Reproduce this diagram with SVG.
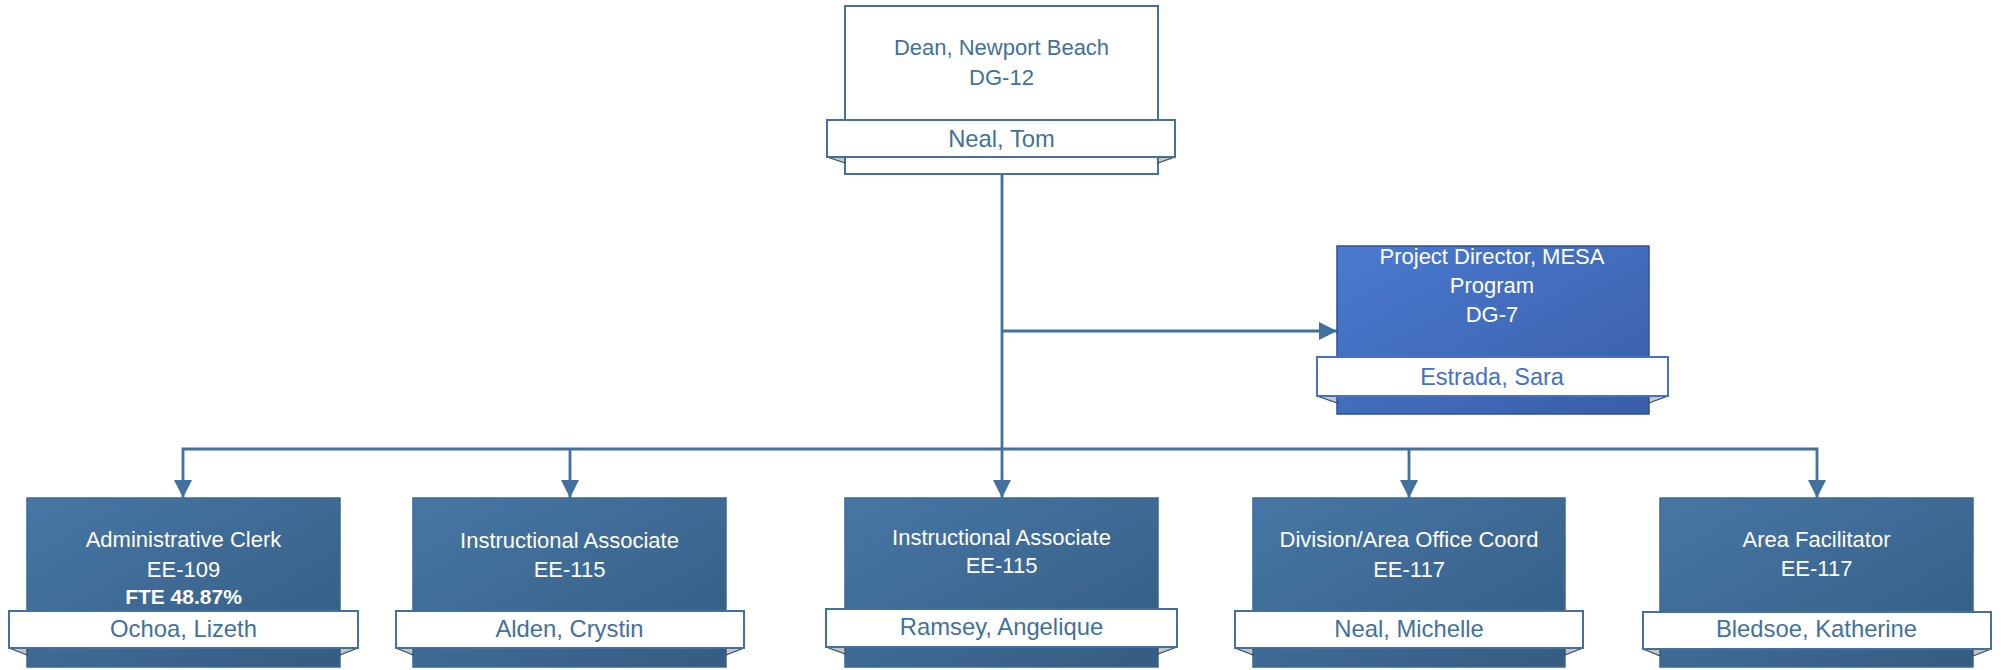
<svg xmlns="http://www.w3.org/2000/svg" width="2005" height="670" viewBox="0 0 2005 670">
<style>
text{font-family:"Liberation Sans",Arial,sans-serif;text-anchor:middle}
.t{font-size:22px;fill:#ffffff}
.tb{font-size:21px;fill:#ffffff;font-weight:bold}
.td{font-size:22px;fill:#41719C}
.n{font-size:23.8px;fill:#41719C}
.nm{font-size:23.5px;fill:#4472C4}
.box{fill:url(#gBlue);stroke:#3D6790;stroke-width:1.5}
.boxm{fill:url(#gMesa);stroke:#2F528F;stroke-width:1.5}
.boxw{fill:#ffffff;stroke:#41719C;stroke-width:2}
.ban{fill:#ffffff;stroke:#41719C;stroke-width:2}
.banm{fill:#ffffff;stroke:#4472C4;stroke-width:2}
.fold{fill:#C4C4C4;stroke:#2E4A66;stroke-width:1.2;stroke-linejoin:round}
.c{fill:none;stroke:#41719C;stroke-width:2.8}
</style>
<defs>
<linearGradient id="gBlue" x1="0" y1="0" x2="1" y2="1">
<stop offset="0" stop-color="#4677A6"/>
<stop offset="1" stop-color="#355C82"/>
</linearGradient>
<linearGradient id="gMesa" x1="0" y1="0" x2="1" y2="1">
<stop offset="0" stop-color="#4A7AD0"/>
<stop offset="1" stop-color="#3A5EA8"/>
</linearGradient>
<marker id="arr" viewBox="0 0 18 18" refX="18" refY="9" markerWidth="18" markerHeight="18" markerUnits="userSpaceOnUse" orient="auto">
<path d="M0,0 L18,9 L0,18 z" fill="#41719C"/>
</marker>
</defs>
<rect width="2005" height="670" fill="#ffffff"/>

<g id="connectors">
<path class="c" d="M1002,174 V498" marker-end="url(#arr)"/>
<path class="c" d="M1002,331 H1337" marker-end="url(#arr)"/>
<path class="c" d="M1002,449 H183 V498" marker-end="url(#arr)"/>
<path class="c" d="M570,449 V498" marker-end="url(#arr)"/>
<path class="c" d="M1002,449 H1817 V498" marker-end="url(#arr)"/>
<path class="c" d="M1409,449 V498" marker-end="url(#arr)"/>
</g>

<g id="node-dean">
<rect class="boxw" x="845" y="6" width="313" height="168"/>
<polygon class="fold" points="827,157 845,157 845,163"/>
<polygon class="fold" points="1175,157 1158,157 1158,163"/>
<rect class="ban" x="827" y="120" width="348" height="37"/>
<text class="td" x="1001.5" y="55">Dean, Newport Beach</text>
<text class="td" x="1001.5" y="85">DG-12</text>
<text class="n" x="1001.5" y="147">Neal, Tom</text>
</g>

<g id="node-mesa">
<rect class="boxm" x="1337" y="246" width="312" height="168"/>
<polygon class="fold" points="1317,396 1337,396 1337,403"/>
<polygon class="fold" points="1668,396 1649,396 1649,403"/>
<rect class="banm" x="1317" y="357" width="351" height="39"/>
<text class="t" x="1492" y="264">Project Director, MESA</text>
<text class="t" x="1492" y="293">Program</text>
<text class="t" x="1492" y="322">DG-7</text>
<text class="nm" x="1492" y="385">Estrada, Sara</text>
</g>

<g id="node-ochoa">
<rect class="box" x="27" y="498" width="313" height="169"/>
<polygon class="fold" points="9,648 27,648 27,655"/>
<polygon class="fold" points="358,648 340,648 340,655"/>
<rect class="ban" x="9" y="611" width="349" height="37"/>
<text class="t" x="183.5" y="547">Administrative Clerk</text>
<text class="t" x="183.5" y="577">EE-109</text>
<text class="tb" x="183.5" y="604">FTE 48.87%</text>
<text class="n" x="183.5" y="637">Ochoa, Lizeth</text>
</g>

<g id="node-alden">
<rect class="box" x="413" y="498" width="313" height="169"/>
<polygon class="fold" points="396,648 413,648 413,655"/>
<polygon class="fold" points="744,648 726,648 726,655"/>
<rect class="ban" x="396" y="611" width="348" height="37"/>
<text class="t" x="569.5" y="548">Instructional Associate</text>
<text class="t" x="569.5" y="577">EE-115</text>
<text class="n" x="569.5" y="637">Alden, Crystin</text>
</g>

<g id="node-ramsey">
<rect class="box" x="845" y="498" width="313" height="169"/>
<polygon class="fold" points="826,647 845,647 845,654"/>
<polygon class="fold" points="1177,647 1158,647 1158,654"/>
<rect class="ban" x="826" y="609" width="351" height="38"/>
<text class="t" x="1001.5" y="545">Instructional Associate</text>
<text class="t" x="1001.5" y="573">EE-115</text>
<text class="n" x="1001.5" y="635">Ramsey, Angelique</text>
</g>

<g id="node-neal-michelle">
<rect class="box" x="1253" y="498" width="312" height="169"/>
<polygon class="fold" points="1235,648 1253,648 1253,655"/>
<polygon class="fold" points="1583,648 1565,648 1565,655"/>
<rect class="ban" x="1235" y="611" width="348" height="37"/>
<text class="t" x="1409" y="547">Division/Area Office Coord</text>
<text class="t" x="1409" y="577">EE-117</text>
<text class="n" x="1409" y="637">Neal, Michelle</text>
</g>

<g id="node-bledsoe">
<rect class="box" x="1660" y="498" width="313" height="169"/>
<polygon class="fold" points="1643,649 1660,649 1660,656"/>
<polygon class="fold" points="1991,649 1973,649 1973,656"/>
<rect class="ban" x="1643" y="612" width="348" height="37"/>
<text class="t" x="1816.5" y="547">Area Facilitator</text>
<text class="t" x="1816.5" y="576">EE-117</text>
<text class="n" x="1816.5" y="637">Bledsoe, Katherine</text>
</g>
</svg>
